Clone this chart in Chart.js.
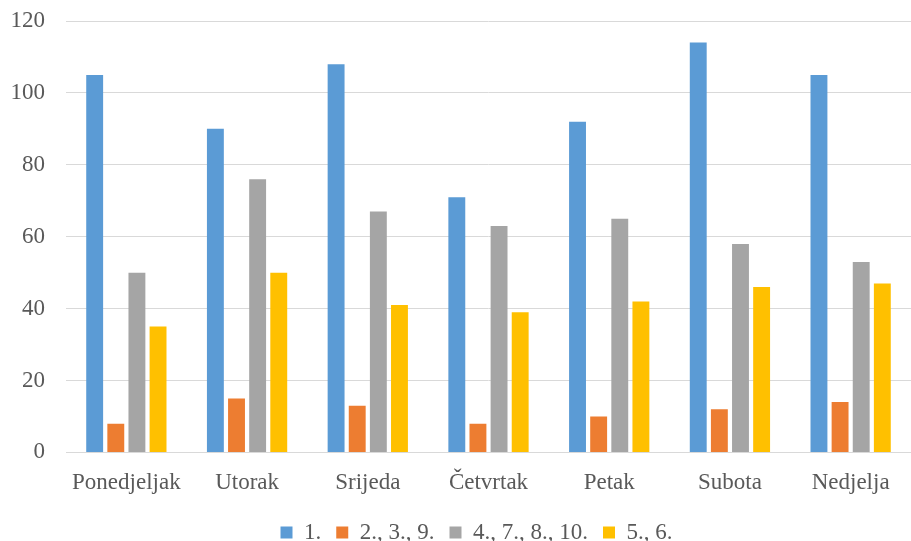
<!DOCTYPE html>
<html>
<head>
<meta charset="utf-8">
<script src="https://cdn.jsdelivr.net/npm/chart.js@4/dist/chart.umd.min.js"></script>
<style>
  html, body { margin: 0; padding: 0; background: #fff; }
  #wrap { width: 911px; height: 541px; position: relative; }
</style>
</head>
<body>
<div id="wrap"><canvas id="daysChart"></canvas></div>
<script>
// Days of the week and the four groups
const days = ['Ponedjeljak', 'Utorak', 'Srijeda', 'Četvrtak', 'Petak', 'Subota', 'Nedjelja'];
const seriesNames = ['1.', '2., 3., 9.', '4., 7., 8., 10.', '5., 6.'];

const group1 = [105, 90, 108, 71, 92, 114, 105];
const group2 = [8, 15, 13, 8, 10, 12, 14];
const group3 = [50, 76, 67, 63, 65, 58, 53];
const group4 = [35, 50, 41, 39, 42, 46, 47];

const yTicks = [0, 20, 40, 60, 80, 100, 120];

const colors = ['#5B9BD5', '#ED7D31', '#A5A5A5', '#FFC000'];
const textColor = '#595959';
const gridColor = '#D9D9D9';
const fontFamily = "'Liberation Serif', 'Times New Roman', serif";

const seriesData = [group1, group2, group3, group4];

// nudge the legend row a little to the right of the canvas centre
const legendShift = {
    id: 'legendShift',
    afterLayout(chart) {
        if (chart.legend) {
            chart.legend.left += 15;
            chart.legend.right += 15;
        }
    }
};

function buildChart() {
    const ctx = document.getElementById('daysChart');

    new Chart(ctx, {
        type: 'bar',
        data: {
            labels: days,
            datasets: seriesData.map((vals, i) => ({
                label: seriesNames[i],
                data: vals,
                backgroundColor: colors[i],
                borderWidth: 0,
                barPercentage: 0.8,
                categoryPercentage: 0.7
            }))
        },
        options: {
            responsive: true,
            maintainAspectRatio: false,
            animation: false,
            layout: {
                padding: { top: 21, left: 12, right: 0, bottom: -13 }
            },
            scales: {
                x: {
                    grid: { display: false },
                    border: { display: true, color: gridColor, width: 1 },
                    ticks: {
                        color: textColor,
                        font: { family: fontFamily, size: 23, lineHeight: 1.46 },
                        padding: 6,
                        maxRotation: 0
                    }
                },
                y: {
                    min: 0,
                    max: 120,
                    afterBuildTicks: (axis) => {
                        axis.ticks = yTicks.map(v => ({ value: v }));
                    },
                    afterFit: (axis) => {
                        axis.width = 54;
                        axis.paddingTop = 0;
                    },
                    grid: { color: gridColor, lineWidth: 1, drawTicks: false },
                    border: { display: false },
                    ticks: {
                        color: textColor,
                        font: { family: fontFamily, size: 23 },
                        padding: 21
                    }
                }
            },
            plugins: {
                legend: {
                    position: 'bottom',
                    labels: {
                        color: textColor,
                        font: { family: fontFamily, size: 23 },
                        boxWidth: 12,
                        boxHeight: 12,
                        padding: 15
                    }
                },
                tooltip: { enabled: false }
            }
        },
        plugins: [legendShift]
    });
}

// make sure the serif face is ready before the canvas text is measured
document.fonts.load("23px 'Liberation Serif'").then(buildChart, buildChart);
</script>
</body>
</html>
